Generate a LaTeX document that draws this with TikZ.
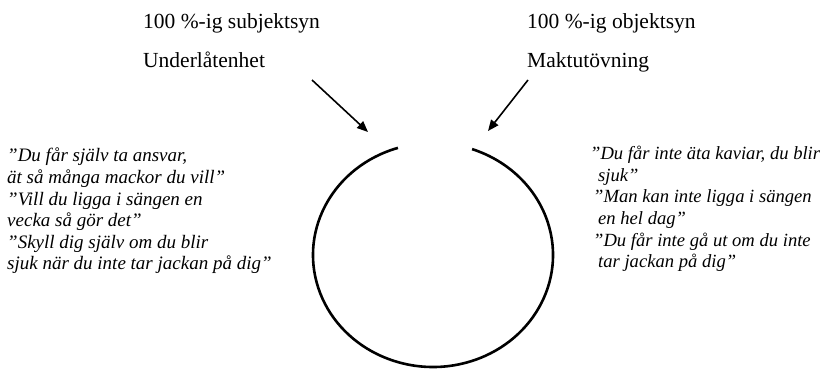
\documentclass[tikz,border=0pt]{standalone}
\usepackage{fontspec}
\setmainfont{Liberation Serif}
\usetikzlibrary{arrows.meta}

\begin{document}
\begin{tikzpicture}[
    % 1 px da figura = 1 pt
    x=1pt, y=1pt,
    seta/.style={line width=1.6pt, -{Triangle[length=11pt,width=9pt]}},
    titulo/.style={anchor=north west, inner sep=0pt, align=left,
        font=\fontsize{21.5}{39}\selectfont},
    citacao/.style={anchor=north west, inner sep=0pt, align=left,
        font=\fontsize{19}{21.6}\selectfont\itshape}
]
    \useasboundingbox (0,0) rectangle (832,368);

    % ==========================================
    % 1. TITULOS (topo)
    % ==========================================
    \node[titulo] (subjektsyn) at (143,355) {100 \%-ig subjektsyn\\Underlåtenhet};
    \node[titulo] (objektsyn) at (527,355) {100 \%-ig objektsyn\\Maktutövning};

    % ==========================================
    % 2. SETAS para a abertura do circulo
    % ==========================================
    \coordinate (subjStart) at (312,288); % inicio da seta esquerda
    \coordinate (subjEnd) at (368,236);
    \coordinate (objStart) at (528,288);  % inicio da seta direita
    \coordinate (objEnd) at (488,237);
    \draw[seta] (subjStart) -- (subjEnd);
    \draw[seta] (objStart) -- (objEnd);

    % ==========================================
    % 3. CIRCULO ABERTO (aberto no topo)
    % ==========================================
    \draw[line width=2.6pt] (433,113) ++(107:120 and 112)
        arc[start angle=107, end angle=431, x radius=120, y radius=112];

    % ==========================================
    % 4. CITACOES (esquerda e direita)
    % ==========================================
    \node[citacao] (citEsq) at (7,220) {"Du får själv ta ansvar,\\
        ät så många mackor du vill"\\
        "Vill du ligga i sängen en\\
        vecka så gör det"\\
        "Skyll dig själv om du blir\\
        sjuk när du inte tar jackan på dig"};
    \node[citacao, font=\fontsize{18.6}{21.6}\selectfont\itshape] (citDir) at (590,222)
        {"Du får inte äta kaviar, du blir\\
        \hspace*{8pt}sjuk"\\
        \hspace*{3pt}"Man kan inte ligga i sängen\\
        \hspace*{8pt}en hel dag"\\
        \hspace*{3pt}"Du får inte gå ut om du inte\\
        \hspace*{8pt}tar jackan på dig"};

\end{tikzpicture}
\end{document}
